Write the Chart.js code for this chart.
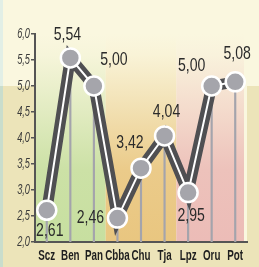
<!DOCTYPE html>
<html>
<head>
<meta charset="utf-8">
<script src="https://cdn.jsdelivr.net/npm/chart.js@4/dist/chart.umd.min.js"></script>
<style>
html,body{margin:0;padding:0;background:#faf7df;}
#wrap{width:259px;height:267px;}
</style>
</head>
<body>
<div id="wrap"><canvas id="c" width="259" height="267"></canvas></div>
<script>
const categories = ["Scz","Ben","Pan","Cbba","Chu","Tja","Lpz","Oru","Pot"];
const values = [2.61, 5.54, 5.00, 2.46, 3.42, 4.04, 2.95, 5.00, 5.08];
const yTicks = [2.0, 2.5, 3.0, 3.5, 4.0, 4.5, 5.0, 5.5, 6.0];
const bandGroups = [[0,2],[3,5],[6,8]];
const bandColors = ["#c7dfa0","#e9c680","#ecbcb7"];
// label offsets (dx, dy) relative to each point
const labelOffsets = [[3,20],[-3,-23],[20,-26],[-27,0],[-11,-25],[2,-24],[3,23],[-20,-20],[2,-28]];

const FONT = "'Liberation Sans','Arial',sans-serif";
const fmt = v => v.toFixed(2).replace('.', ',');
const fmtY = v => v.toFixed(1).replace('.', ',');

function hexToRgb(h){h=h.replace('#','');return [parseInt(h.slice(0,2),16),parseInt(h.slice(2,4),16),parseInt(h.slice(4,6),16)];}
function mix(a,b,t){const A=hexToRgb(a),B=hexToRgb(b);return 'rgb('+A.map((v,i)=>Math.round(v+(B[i]-v)*t)).join(',')+')';}

function narrowText(ctx, text, x, y, sx, align){
  ctx.save();
  ctx.translate(x,y);
  ctx.scale(sx,1);
  ctx.textAlign = align;
  ctx.fillText(text,0,0);
  ctx.restore();
}

const bgPlugin = {
  id:'bg',
  beforeDraw(chart){
    const {ctx, chartArea:a, scales:{x,y}} = chart;
    const W = chart.width, H = chart.height;
    const cream = '#faf7df';
    ctx.save();
    ctx.fillStyle = cream; ctx.fillRect(0,0,W,H);
    const split = y.getPixelForValue(5.0);
    ctx.fillStyle = '#ece4b9'; ctx.fillRect(0,split,W,H-split);
    ctx.fillStyle = '#e2efe6'; ctx.fillRect(0,0,3,split);
    ctx.fillStyle = '#c9ddcc'; ctx.fillRect(0,split,3,H-split);
    ctx.fillStyle = cream; ctx.fillRect(a.left,a.top,a.right-a.left,a.bottom-a.top);
    bandGroups.forEach((g,i)=>{
      const x0 = g[0]===0 ? a.left : (x.getPixelForValue(g[0]-1)+x.getPixelForValue(g[0]))/2;
      const x1 = g[1]===categories.length-1 ? a.right-3 : (x.getPixelForValue(g[1])+x.getPixelForValue(g[1]+1))/2;
      const gr = ctx.createLinearGradient(0,a.bottom,0,a.top);
      const c = bandColors[i];
      gr.addColorStop(0, c);
      gr.addColorStop(0.35, mix(c,cream,0.1));
      gr.addColorStop(0.65, mix(c,cream,0.55));
      gr.addColorStop(0.9, mix(c,cream,0.92));
      gr.addColorStop(1, cream);
      ctx.fillStyle = gr;
      ctx.fillRect(x0,a.top,x1-x0,a.bottom-a.top);
    });
    ctx.restore();
  }
};

const textPlugin = {
  id:'texts',
  afterDraw(chart){
    const ctx = chart.ctx;
    const {x, y} = chart.scales;
    const a = chart.chartArea;
    ctx.save();
    ctx.textBaseline = 'middle';
    // value labels
    ctx.font = "19px " + FONT;
    ctx.fillStyle = '#2b2b2b';
    const meta = chart.getDatasetMeta(2);
    meta.data.forEach((pt,i)=>{
      narrowText(ctx, fmt(values[i]), pt.x + labelOffsets[i][0], pt.y + labelOffsets[i][1], 0.74, 'center');
    });
    // x tick labels
    ctx.font = "bold 14px " + FONT;
    ctx.fillStyle = '#1e1e1e';
    categories.forEach((c,i)=>{
      narrowText(ctx, c, x.getPixelForValue(i), a.bottom + 14, 0.7, 'center');
    });
    // y tick labels
    ctx.font = "italic 14px " + FONT;
    ctx.fillStyle = '#3a3a3a';
    yTicks.forEach(v=>{
      narrowText(ctx, fmtY(v), a.left - 5, y.getPixelForValue(v), 0.66, 'right');
    });
    ctx.restore();
  }
};

new Chart(document.getElementById('c'), {
  data: {
    labels: categories,
    datasets: [
      { type:'bar', data: values, backgroundColor:'#a4a4ac', barThickness:1.5, order:3 },
      { type:'line', data: values, borderColor:'#4f4f52', borderWidth:11, pointRadius:0, tension:0, order:2 },
      { type:'line', data: values, borderColor:'#ffffff', borderWidth:2, tension:0,
        pointRadius:9.5, pointBackgroundColor:'#a5a5ab', pointBorderColor:'#ffffff', pointBorderWidth:2.5, order:1 }
    ]
  },
  options: {
    responsive:false,
    animation:false,
    events:[],
    layout:{padding:{top:34,right:5,left:0,bottom:0}},
    plugins:{legend:{display:false},tooltip:{enabled:false}},
    scales:{
      x:{
        offset:true,
        grid:{display:false,drawTicks:false},
        border:{display:true,color:'#555555',width:2},
        ticks:{display:false,autoSkip:false},
        afterFit(s){s.height=25;}
      },
      y:{
        min:2, max:6,
        afterBuildTicks(s){ s.ticks = yTicks.map(v=>({value:v})); },
        grid:{drawOnChartArea:false,drawTicks:true,tickLength:4,color:'#555555',lineWidth:1.5},
        border:{display:true,color:'#555555',width:2},
        ticks:{display:true,color:'rgba(0,0,0,0)',font:{size:8},padding:1,callback:v=>fmtY(v)},
        afterFit(s){s.width=35;}
      }
    }
  },
  plugins:[bgPlugin,textPlugin]
});
</script>
</body>
</html>
